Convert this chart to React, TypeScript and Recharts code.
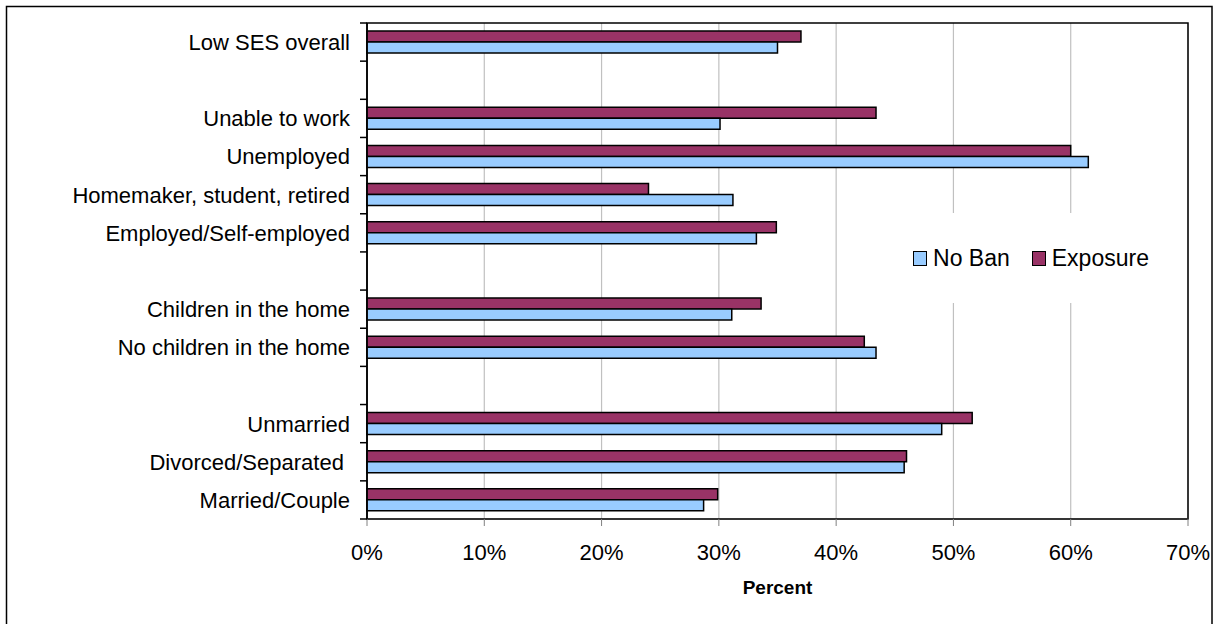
import React from "react";
import {
  BarChart,
  Bar,
  XAxis,
  YAxis,
  CartesianGrid,
  Label,
  ReferenceArea,
} from "recharts";

// Rows top to bottom; empty strings are spacer rows between groups
const categories = [
  "Low SES overall",
  "",
  "Unable to work",
  "Unemployed",
  "Homemaker, student, retired",
  "Employed/Self-employed",
  "",
  "Children in the home",
  "No children in the home",
  "",
  "Unmarried",
  "Divorced/Separated ",
  "Married/Couple",
];

const exposure = [37.0, null, 43.4, 60.0, 24.0, 34.9, null, 33.6, 42.4, null, 51.6, 46.0, 29.9];
const noBan = [35.0, null, 30.1, 61.5, 31.2, 33.2, null, 31.1, 43.4, null, 49.0, 45.8, 28.7];

const percentTicks = [0, 10, 20, 30, 40, 50, 60, 70];

const legendItems = [
  { label: "No Ban", color: "#99ccff" },
  { label: "Exposure", color: "#993366" },
];

const EXPOSURE_COLOR = "#993366";
const NO_BAN_COLOR = "#99ccff";
const FONT = '"Liberation Sans", Arial, Helvetica, sans-serif';

const rows = categories.map((name, i) => ({
  name,
  exposure: exposure[i],
  noBan: noBan[i],
}));

// Category label plus a tick mark on the band boundary (Excel style)
function CategoryTick(props: any) {
  const { x, y, payload, index } = props;
  const half = payload.offset || 19;
  const axisX = x + 17;
  const last = index === categories.length - 1;
  return (
    <g>
      <line x1={axisX - 7} x2={axisX} y1={y - half} y2={y - half} stroke="#000" strokeWidth={1.5} />
      {last && (
        <line x1={axisX - 7} x2={axisX} y1={y + half} y2={y + half} stroke="#000" strokeWidth={1.5} />
      )}
      {payload.value && (
        <text
          x={x}
          y={y}
          dy="0.36em"
          textAnchor="end"
          fontSize={22}
          fontFamily={FONT}
          fill="#000"
          style={{ whiteSpace: "pre" }}
        >
          {payload.value}
        </text>
      )}
    </g>
  );
}

function LegendBox() {
  return (
    <div
      style={{
        position: "absolute",
        left: 895,
        top: 213,
        width: 272,
        height: 90,
        background: "#fff",
        display: "flex",
        alignItems: "center",
        justifyContent: "center",
        gap: 22,
        fontFamily: FONT,
        fontSize: 23,
        color: "#000",
      }}
    >
      {legendItems.map((it) => (
        <div key={it.label} style={{ display: "flex", alignItems: "center", gap: 6 }}>
          <span
            style={{
              display: "inline-block",
              width: 14,
              height: 15,
              boxSizing: "border-box",
              border: "1.5px solid #000",
              background: it.color,
            }}
          />
          <span>{it.label}</span>
        </div>
      ))}
    </div>
  );
}

export default function App() {
  return (
    <div style={{ position: "relative", width: 1216, height: 624, overflow: "hidden", background: "#fff" }}>
      <style>{"body { margin: 0; }"}</style>
      <div style={{ position: "absolute", left: 0, top: 0 }}>
        <BarChart
          width={1216}
          height={624}
          data={rows}
          layout="vertical"
          margin={{ top: 23, right: 28, bottom: 0, left: 0 }}
          barSize={11}
          barGap={0}
        >
          <CartesianGrid horizontal={false} stroke="#c0c0c0" strokeWidth={1.2} />
          <XAxis
            type="number"
            domain={[0, 70]}
            ticks={percentTicks}
            interval={0}
            tickFormatter={(v) => `${v}%`}
            height={105}
            tickSize={7}
            tickMargin={18}
            tickLine={{ stroke: "#808080" }}
            axisLine={{ stroke: "#333", strokeWidth: 1.5 }}
            tick={{ fontSize: 22, fontFamily: FONT, fill: "#000" }}
          >
            <Label
              content={({ viewBox }: any) => (
                <text
                  x={viewBox.x + viewBox.width / 2}
                  y={viewBox.y + 75}
                  textAnchor="middle"
                  fontSize={19}
                  fontWeight="bold"
                  fontFamily={FONT}
                  fill="#000"
                >
                  Percent
                </text>
              )}
            />
          </XAxis>
          <YAxis
            type="category"
            dataKey="name"
            width={367}
            interval={0}
            tickSize={6}
            tickMargin={11}
            tickLine={false}
            axisLine={{ stroke: "#000", strokeWidth: 1.5 }}
            tick={<CategoryTick />}
          />
          <ReferenceArea x1={0} x2={70} fill="none" stroke="#000" strokeWidth={1.5} />
          <Bar dataKey="exposure" name="Exposure" fill={EXPOSURE_COLOR} stroke="#000" strokeWidth={1.5} isAnimationActive={false} />
          <Bar dataKey="noBan" name="No Ban" fill={NO_BAN_COLOR} stroke="#000" strokeWidth={1.5} isAnimationActive={false} />
        </BarChart>
      </div>
      <LegendBox />
      {/* outer chart frame; its bottom edge runs past the view */}
      <svg
        width={1216}
        height={624}
        style={{ position: "absolute", left: 0, top: 0, pointerEvents: "none" }}
      >
        <rect x={6.5} y={6.5} width={1205.5} height={640} fill="none" stroke="#000" strokeWidth={1.5} />
      </svg>
    </div>
  );
}
